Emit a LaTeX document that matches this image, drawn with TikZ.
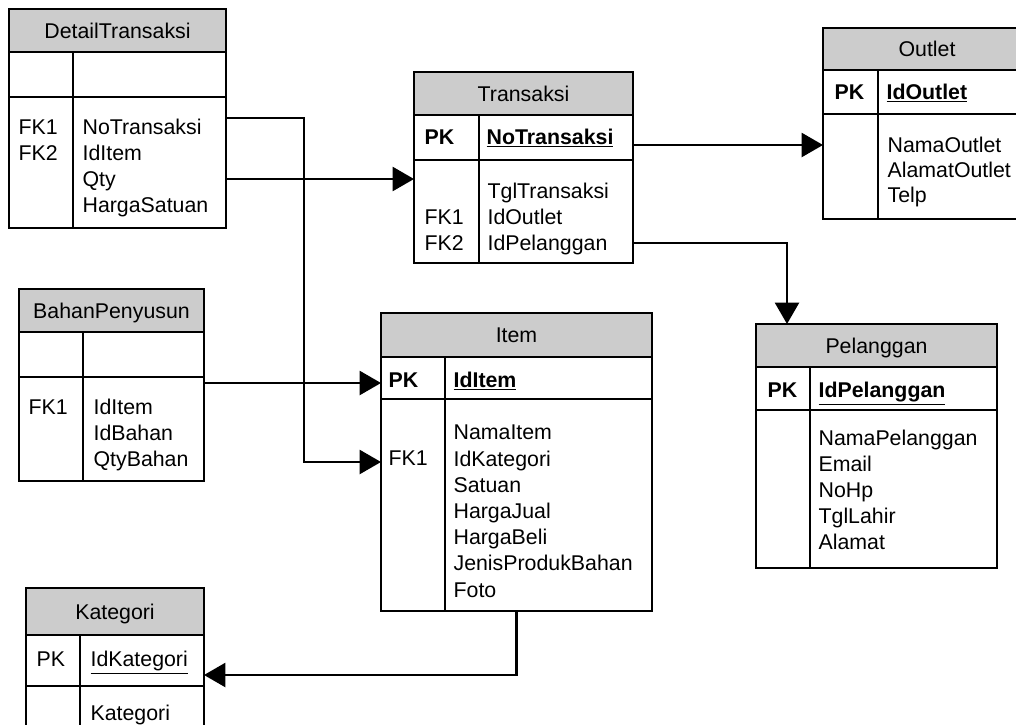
\documentclass[tikz,border=0pt]{standalone}
\usepackage{fontspec}
\setmainfont{Liberation Sans}
\usetikzlibrary{arrows.meta,calc}
\newcommand\pxu{0.75pt}
\newcommand\erfont{\fontsize{16}{19}\selectfont}
\tikzset{
  tbl/.style={draw, anchor=north west, inner sep=0pt, outer sep=0pt},
  hdr/.style={tbl, fill=black!20, text height=11.5pt, text depth=0pt},
  fld/.style={anchor=west, inner sep=0pt, text height=11.5pt, text depth=0pt},
  key/.style={fld, font=\erfont\bfseries},
  rel/.style={line width=1.7pt, -{Triangle[length=16pt,width=18pt]}}
}
\begin{document}
\begin{tikzpicture}[x=\pxu, y=-\pxu, line width=0.9pt, font=\erfont]
    \useasboundingbox (0,0) rectangle (1016,724);

    % Table DetailTransaksi
    \node[tbl, minimum width=217*\pxu, minimum height=219*\pxu] (dt) at (9,9) {};
    \node[hdr, minimum width=217*\pxu, minimum height=43*\pxu] (dt-h) at (9,9) {DetailTransaksi};
    \draw (9,97) -- (226,97) (73,52) -- (73,228);
    \node[fld] (dt-k1) at (18,127) {FK1};
    \node[fld] (dt-k2) at (18,153) {FK2};
    \foreach \f [count=\i] in {NoTransaksi,IdItem,Qty,HargaSatuan}
      \node[fld] (dt-a\i) at (82,{101+26*\i}) {\f};

    % Table Transaksi
    \node[tbl, minimum width=219*\pxu, minimum height=191*\pxu] (tr) at (414,72) {};
    \node[hdr, minimum width=219*\pxu, minimum height=43*\pxu] (tr-h) at (414,72) {Transaksi};
    \draw (414,160) -- (633,160) (479,115) -- (479,263);
    \node[key] (tr-pk) at (424,137) {PK};
    \node[key] (tr-id) at (486,137) {\underline{NoTransaksi}};
    \node[fld] (tr-k1) at (424,217) {FK1};
    \node[fld] (tr-k2) at (424,243) {FK2};
    \foreach \f [count=\i] in {TglTransaksi,IdOutlet,IdPelanggan}
      \node[fld] (tr-a\i) at (487,{165+26*\i}) {\f};

    % Table Outlet
    \node[tbl, minimum width=208*\pxu, minimum height=191*\pxu] (ou) at (823,28) {};
    \node[hdr, minimum width=208*\pxu, minimum height=42*\pxu] (ou-h) at (823,28) {Outlet};
    \draw (823,114) -- (1031,114) (878,70) -- (878,219);
    \node[key] (ou-pk) at (834,92) {PK};
    \node[key] (ou-id) at (886,92) {\underline{IdOutlet}};
    \foreach \f [count=\i] in {NamaOutlet,AlamatOutlet,Telp}
      \node[fld] (ou-a\i) at (887,{120+25*\i}) {\f};

    % Table BahanPenyusun
    \node[tbl, minimum width=185*\pxu, minimum height=192*\pxu] (bp) at (19,289) {};
    \node[hdr, minimum width=185*\pxu, minimum height=43*\pxu] (bp-h) at (19,289) {BahanPenyusun};
    \draw (19,377) -- (204,377) (83,332) -- (83,481);
    \node[fld] (bp-k1) at (28,407) {FK1};
    \foreach \f [count=\i] in {IdItem,IdBahan,QtyBahan}
      \node[fld] (bp-a\i) at (93,{381+26*\i}) {\f};

    % Table Item
    \node[tbl, minimum width=271*\pxu, minimum height=298*\pxu] (itm) at (381,313) {};
    \node[hdr, minimum width=271*\pxu, minimum height=44*\pxu] (itm-h) at (381,313) {Item};
    \draw (381,399) -- (652,399) (445,357) -- (445,611);
    \node[key] (itm-pk) at (388,380) {PK};
    \node[key] (itm-id) at (453,380) {\underline{IdItem}};
    \node[fld] (itm-k1) at (388,458) {FK1};
    \foreach \f [count=\i] in {NamaItem,IdKategori,Satuan,HargaJual,HargaBeli,JenisProdukBahan,Foto}
      \node[fld] (itm-a\i) at (453,{406+26.2*\i}) {\f};

    % Table Pelanggan
    \node[tbl, minimum width=241*\pxu, minimum height=244*\pxu] (pl) at (756,324) {};
    \node[hdr, minimum width=241*\pxu, minimum height=43*\pxu] (pl-h) at (756,324) {Pelanggan};
    \draw (756,410) -- (997,410) (810,367) -- (810,568);
    \node[key] (pl-pk) at (767,390) {PK};
    \node[key] (pl-id) at (818,390) {\underline{IdPelanggan}};
    \foreach \f [count=\i] in {NamaPelanggan,Email,NoHp,TglLahir,Alamat}
      \node[fld] (pl-a\i) at (818,{412+26*\i}) {\f};

    % Table Kategori
    \node[tbl, minimum width=178*\pxu, minimum height=160*\pxu] (kt) at (26,588) {};
    \node[hdr, minimum width=178*\pxu, minimum height=47*\pxu] (kt-h) at (26,588) {Kategori};
    \draw (26,686) -- (204,686) (80,635) -- (80,748);
    \node[fld] (kt-pk) at (36,659) {PK};
    \node[fld] (kt-id) at (90,659) {\underline{IdKategori}};
    \node[fld] (kt-a1) at (90,713) {Kategori};

    % Relations
    \draw[rel] ($(dt-a1 -| dt.east)+(0,-9)$) -- ++(78,0) |- ($(itm-k1 -| itm.west)+(0,4)$);
    \draw[rel] (dt-a3 -| dt.east) -- (dt-a3 -| tr.west);
    \draw[rel] ($(itm-pk -| bp.east)+(0,3)$) -- ($(itm-pk -| itm.west)+(0,3)$);
    \draw[rel] (ou-a1 -| tr.east) -- (ou-a1 -| ou.west);
    \draw[rel] (tr-a3 -| tr.east) -| ($(pl.north west)+(31,0)$);
    \draw[rel] (itm.south) |- ($(kt-pk -| kt.east)+(0,16)$);
\end{tikzpicture}
\end{document}
